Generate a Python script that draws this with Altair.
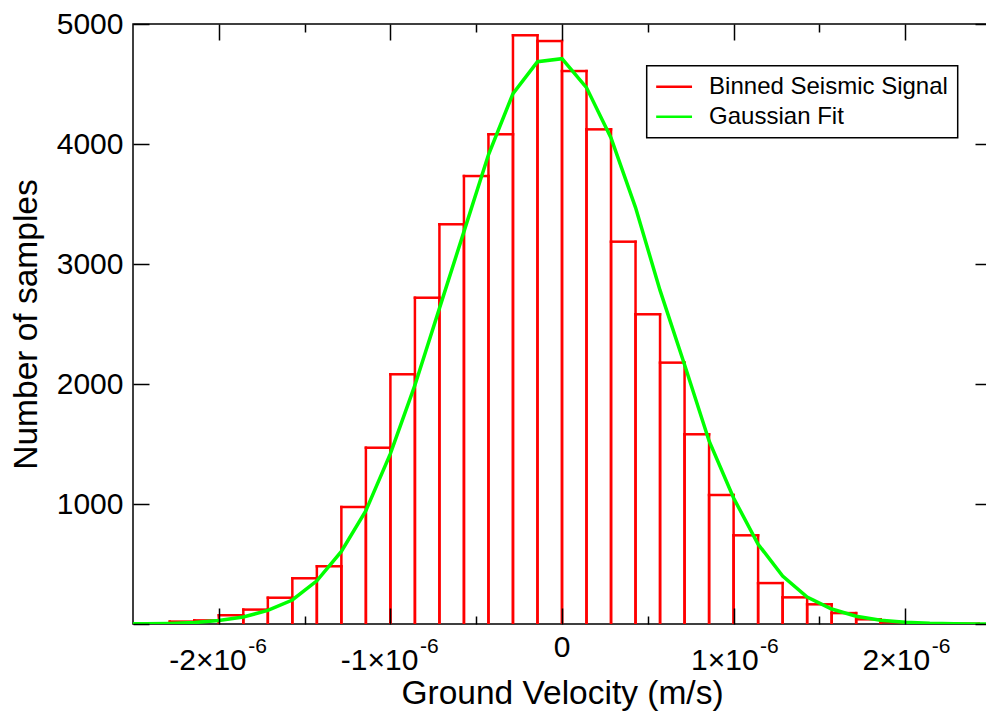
import altair as alt
import pandas as pd

# ---------------- data ----------------
BIN_WIDTH = 1e-6 / 7.0          # histogram bin width (m/s)
bin_index = list(range(-17, 17))  # bin k spans [k*w, (k+1)*w]
bin_counts = [5, 20, 30, 73, 120, 219, 381, 481, 975, 1469, 2081, 2719,
              3331, 3733, 4081, 4906, 4858, 4608, 4122, 3186, 2581, 2178,
              1581, 1075, 739, 341, 222, 164, 91, 39, 14, 6, 4, 2]

fit_index = list(range(-18, 19))  # fit evaluated at bin edges k*w
fit_counts = [1, 2, 5, 12, 30, 58, 114, 200, 360, 605, 945, 1420, 1990,
              2630, 3270, 3910, 4420, 4686, 4711, 4470, 4050, 3470, 2780,
              2160, 1525, 1050, 665, 400, 225, 125, 65, 32, 15, 6, 3, 1, 0]

major_ticks = [-2e-6, -1e-6, 0.0, 1e-6, 2e-6]
minor_ticks = [-1.5e-6, -0.5e-6, 0.5e-6, 1.5e-6]
y_ticks = [0, 1000, 2000, 3000, 4000, 5000]

neg_tick_values = [-2e-6, -1e-6]
neg_tick_labels = ["-2×10", "-1×10"]
pos_tick_values = [1e-6, 2e-6]
pos_tick_labels = ["1×10", "2×10"]
zero_tick_values = [0.0]
zero_tick_labels = ["0"]
exponent_label = "-6"

series_names = ["Binned Seismic Signal", "Gaussian Fit"]
series_colors = ["#ff0000", "#00ff00"]

x_title = "Ground Velocity (m/s)"
y_title = "Number of samples"

# ---------------- tables ----------------
hist = pd.DataFrame({
    "start": [k * BIN_WIDTH for k in bin_index],
    "end": [(k + 1) * BIN_WIDTH for k in bin_index],
    "count": bin_counts,
    "series": series_names[0],
})
fit = pd.DataFrame({
    "v": [k * BIN_WIDTH for k in fit_index],
    "n": fit_counts,
    "series": series_names[1],
})
neg_df = pd.DataFrame({"v": neg_tick_values, "label": neg_tick_labels})
pos_df = pd.DataFrame({"v": pos_tick_values, "label": pos_tick_labels})
zero_df = pd.DataFrame({"v": zero_tick_values, "label": zero_tick_labels})
exp_neg_df = pd.DataFrame({"v": neg_tick_values, "label": [exponent_label] * len(neg_tick_values)})
exp_pos_df = pd.DataFrame({"v": pos_tick_values, "label": [exponent_label] * len(pos_tick_values)})

FONT = "Liberation Sans"
W, H = 858, 600

xscale = alt.Scale(domain=[-2.5e-6, 2.5e-6], nice=False, zero=False)
yscale = alt.Scale(domain=[0, 5000], nice=False)
cscale = alt.Scale(domain=series_names, range=series_colors)

legend = alt.Legend(
    orient="none", legendX=513.7, legendY=41.7, title=None,
    symbolType="M-1.75,0L1.75,0", symbolSize=420, symbolStrokeWidth=2.5,
    symbolOffset=6.4,
    labelFontSize=24, labelFont=FONT, labelColor="black", labelLimit=400,
    strokeColor="black", fillColor="white", padding=9, rowPadding=6,
    labelOffset=23,
)
color_enc = alt.Color("series:N", scale=cscale, legend=legend)

common_axis = dict(grid=False, domain=False, labels=False, tickColor="black",
                   tickWidth=1.5, zindex=1)

ax_bottom_major = alt.Axis(orient="bottom", values=major_ticks,
                           tickSize=alt.ExprRef(expr="-16"),
                           title=x_title, titleFont=FONT, titleFontSize=33.5,
                           titleFontWeight="normal", titleColor="black",
                           titleX=W / 2, titleY=79, titleBaseline="alphabetic",
                           titleAlign="center", **common_axis)
ax_bottom_minor = alt.Axis(orient="bottom", values=minor_ticks,
                           tickSize=alt.ExprRef(expr="-8"), title=None,
                           **common_axis)
ax_top_major = alt.Axis(orient="top", values=major_ticks,
                        tickSize=alt.ExprRef(expr="-16"), title=None,
                        **common_axis)
ax_top_minor = alt.Axis(orient="top", values=minor_ticks,
                        tickSize=alt.ExprRef(expr="-8"), title=None,
                        **common_axis)

ax_left = alt.Axis(orient="left", values=y_ticks, grid=False, domain=False,
                   labels=True, format="d",
                   labelExpr="datum.value == 0 ? '' : datum.label",
                   labelFont=FONT, labelFontSize=30, labelColor="black",
                   labelPadding=26, tickColor="black", tickWidth=1.5,
                   tickSize=alt.ExprRef(expr="-16"), zindex=1,
                   title=y_title, titleFont=FONT, titleFontSize=33.5,
                   titleFontWeight="normal", titleColor="black",
                   titleX=-97, titleY=H / 2, titleBaseline="alphabetic",
                   titleAlign="center", titleAngle=270)
ax_right = alt.Axis(orient="right", values=y_ticks, title=None,
                    tickSize=alt.ExprRef(expr="-16"), **common_axis)

rule_style = dict(strokeWidth=2.5, strokeCap="square", clip=True)

left_edges = alt.Chart(hist).mark_rule(**rule_style).encode(
    x=alt.X("start:Q", scale=xscale, axis=ax_bottom_major),
    y=alt.Y("count:Q", scale=yscale, axis=ax_left),
    y2=alt.datum(0),
    color=color_enc,
)
right_edges = alt.Chart(hist).mark_rule(**rule_style).encode(
    x=alt.X("end:Q", scale=xscale, axis=ax_bottom_minor),
    y=alt.Y("count:Q", scale=yscale, axis=ax_right),
    y2=alt.datum(0),
    color=color_enc,
)
tops = alt.Chart(hist).mark_rule(**rule_style).encode(
    x=alt.X("start:Q", scale=xscale, axis=ax_top_major),
    x2="end:Q",
    y=alt.Y("count:Q", scale=yscale, axis=None),
    color=color_enc,
)
fit_line = alt.Chart(fit).mark_line(strokeWidth=3.5, clip=True).encode(
    x=alt.X("v:Q", scale=xscale, axis=ax_top_minor),
    y=alt.Y("n:Q", scale=yscale, axis=None),
    color=color_enc,
)

text_style = dict(font=FONT, color="black", baseline="alphabetic")
neg_text = alt.Chart(neg_df).mark_text(align="right", dx=28, fontSize=30, **text_style).encode(
    x=alt.X("v:Q", scale=xscale, axis=None), y=alt.value(646), text="label:N")
pos_text = alt.Chart(pos_df).mark_text(align="right", dx=25, fontSize=30, **text_style).encode(
    x=alt.X("v:Q", scale=xscale, axis=None), y=alt.value(646), text="label:N")
zero_text = alt.Chart(zero_df).mark_text(align="center", fontSize=30, **text_style).encode(
    x=alt.X("v:Q", scale=xscale, axis=None), y=alt.value(633), text="label:N")
exp_neg = alt.Chart(exp_neg_df).mark_text(align="left", dx=29.5, fontSize=21, **text_style).encode(
    x=alt.X("v:Q", scale=xscale, axis=None), y=alt.value(629), text="label:N")
exp_pos = alt.Chart(exp_pos_df).mark_text(align="left", dx=26.5, fontSize=21, **text_style).encode(
    x=alt.X("v:Q", scale=xscale, axis=None), y=alt.value(629), text="label:N")

chart = alt.layer(
    left_edges, right_edges, tops, fit_line,
    neg_text, pos_text, zero_text, exp_neg, exp_pos,
).resolve_axis(x="independent", y="independent").properties(
    width=W, height=H,
    autosize=alt.AutoSizeParams(type="none"),
    padding={"left": 133, "top": 24, "right": -5, "bottom": 89},
    background="white",
).configure_view(
    stroke="black", strokeWidth=1.5,
).configure_legend(
    strokeWidth=1.5,
)

chart.save("out.html", embed_options={"renderer": "svg", "actions": False})
